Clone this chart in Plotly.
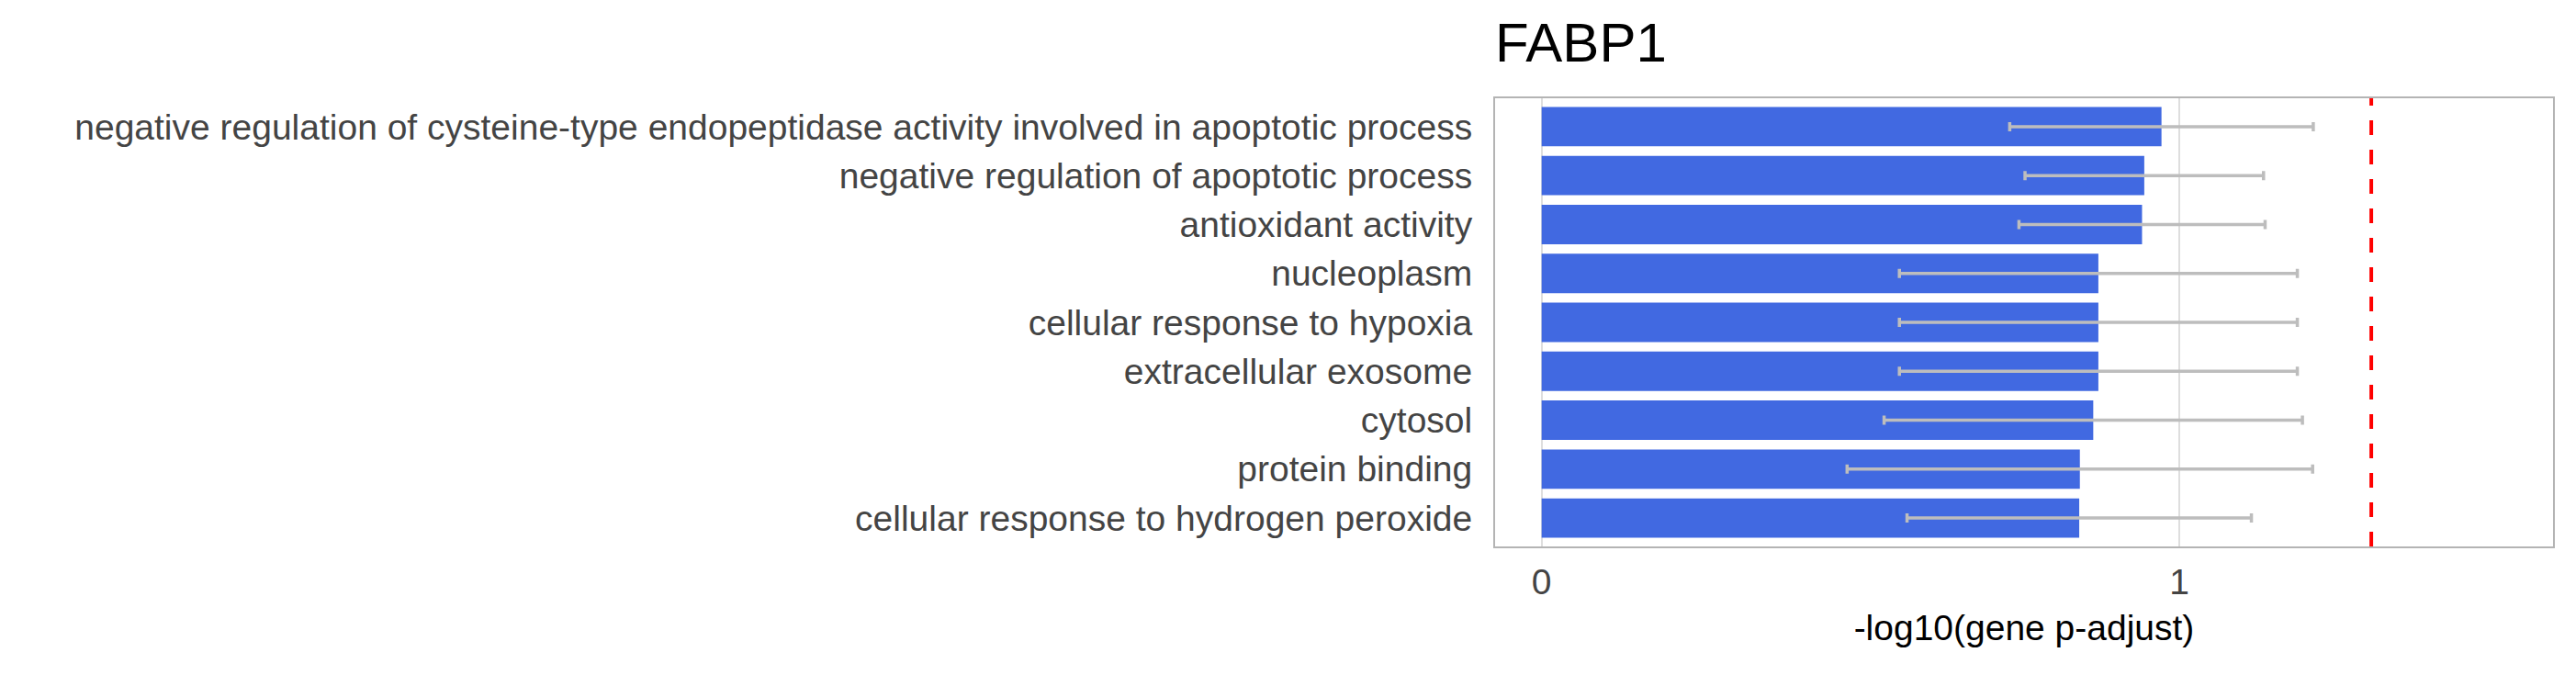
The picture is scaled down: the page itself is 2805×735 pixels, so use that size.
import plotly.graph_objects as go

terms = [
    "negative regulation of cysteine-type endopeptidase activity involved in apoptotic process",
    "negative regulation of apoptotic process",
    "antioxidant activity",
    "nucleoplasm",
    "cellular response to hypoxia",
    "extracellular exosome",
    "cytosol",
    "protein binding",
    "cellular response to hydrogen peroxide",
]
neg_log10_padj = [0.972, 0.945, 0.9415, 0.873, 0.873, 0.873, 0.865, 0.844, 0.843]
errors = [0.238, 0.187, 0.193, 0.312, 0.312, 0.312, 0.328, 0.365, 0.270]
threshold = 1.301
gene = "FABP1"
x_title = "-log10(gene p-adjust)"

FONT = "Arial, Liberation Sans, sans-serif"

fig = go.Figure()
fig.add_trace(go.Bar(
    x=neg_log10_padj,
    y=terms,
    orientation="h",
    marker=dict(color="#4169E1", line=dict(width=0)),
    error_x=dict(type="data", array=errors, visible=True,
                 color="#bdbdbd", thickness=3.5, width=5),
    showlegend=False,
))

fig.add_shape(type="line", xref="x", yref="paper",
              x0=threshold, x1=threshold, y0=0, y1=1,
              line=dict(color="#ff0000", width=4, dash="16px,16px"))

fig.update_layout(
    width=2805, height=735,
    margin=dict(l=1628, r=25, t=107, b=140, autoexpand=False),
    paper_bgcolor="white", plot_bgcolor="white",
    bargap=0.195,
    font=dict(family=FONT, size=39, color="#444444"),
    title=dict(text=gene, x=0, xref="paper", xanchor="left",
               y=1 - 25 / 735, yref="container", yanchor="top",
               font=dict(family=FONT, size=60, color="black")),
)
fig.update_xaxes(
    range=[-0.073, 1.586], dtick=1, tick0=0,
    showgrid=True, gridcolor="#dedede", gridwidth=2, zeroline=False,
    showline=True, mirror=True, linecolor="#b4b4b4", linewidth=2,
    ticks="outside", ticklen=3, tickcolor="rgba(0,0,0,0)",
    tickfont=dict(family=FONT, size=39, color="#444444"),
    title=dict(text=x_title, font=dict(family=FONT, size=39, color="black"), standoff=16),
)
fig.update_yaxes(
    categoryorder="array", categoryarray=terms,
    range=[8.58, -0.58],
    showgrid=False, zeroline=False,
    showline=True, mirror=True, linecolor="#b4b4b4", linewidth=2,
    ticks="outside", ticklen=15, tickcolor="rgba(0,0,0,0)",
    tickfont=dict(family=FONT, size=39, color="#444444"),
)

fig.write_html("out.html", config={"displayModeBar": False},
               post_script="document.body.style.margin='0px';")
